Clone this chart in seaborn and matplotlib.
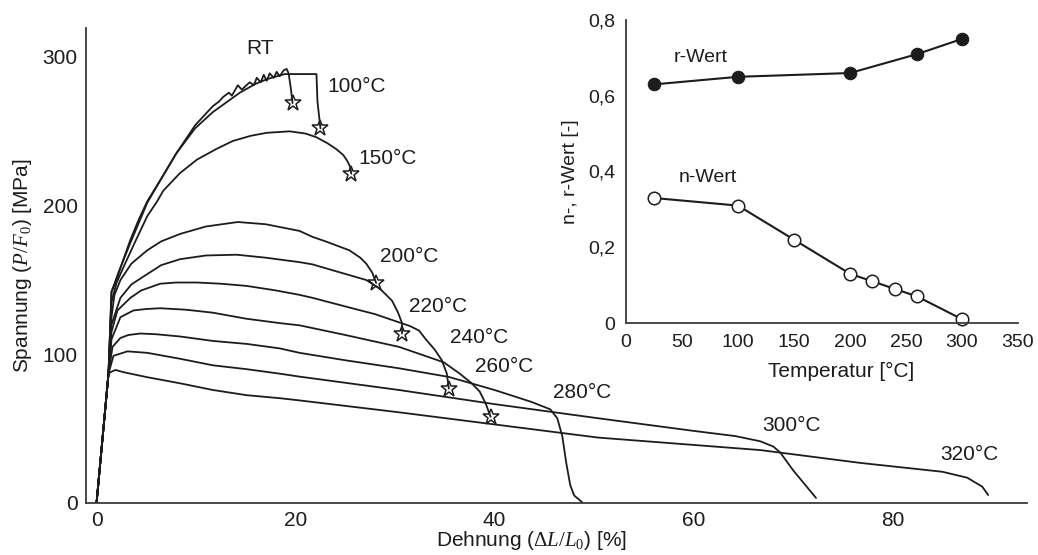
import matplotlib
matplotlib.use("Agg")
import numpy as np
import pandas as pd
import matplotlib.pyplot as plt
import seaborn as sns
from matplotlib.ticker import MultipleLocator

# ---------------- data: stress-strain curves (Dehnung [%], Spannung [MPa]) -------------
rt_strain = [0, 1.2, 1.5, 2.0, 2.6, 3.4, 4.2, 5.1, 6.4, 8.0, 9.9, 11.0, 11.7, 12.3, 12.7,
             13.3, 13.6, 14.2, 14.6, 14.9, 15.4, 15.8, 16.1, 16.5, 16.8, 17.1, 17.4, 17.8,
             18.1, 18.4, 18.8, 19.1, 19.3, 19.5, 19.7]
rt_stress = [0, 87, 142, 150, 162, 177, 190, 203, 217, 235, 254, 262, 267, 270, 273,
             276, 274, 281, 278, 280, 283, 281, 286, 283, 288, 284, 289, 286,
             290, 287, 291, 292, 289, 280, 269]

t100_strain = [0, 1.2, 1.5, 2.2, 3.4, 5.1, 6.4, 8.0, 9.9, 11.7, 14.4, 16.0, 17.1, 18.1,
               18.9, 22.1, 22.2, 22.5]
t100_stress = [0, 87, 142, 155, 175, 202, 217, 235, 252, 263, 276, 282, 285, 287,
               288.5, 288.5, 270, 252]

t150_strain = [0, 1.2, 1.5, 2.0, 2.8, 3.9, 5.1, 6.1, 6.7, 8.4, 10.1, 12.0, 13.7, 15.5,
               17.1, 19.4, 21.0, 22.1, 23.2, 24.1, 24.8, 25.2, 25.5, 25.6]
t150_stress = [0, 87, 135, 148, 160, 176, 193, 203, 210, 222, 231, 238, 243.5, 247,
               249, 250, 248.5, 246, 242, 238, 234, 230, 226, 221.5]

t200_strain = [0, 1.2, 1.4, 1.8, 2.4, 3.5, 5.1, 6.5, 8.4, 11.0, 14.2, 17.0, 20.4, 21.7,
               23.0, 25.4, 26.5, 27.1, 27.7, 28.1]
t200_stress = [0, 87, 120, 140, 150, 161, 170, 176, 181, 186, 189, 187.5, 183, 179,
               176, 170, 165, 161, 155, 148]

t220_strain = [0, 1.2, 1.5, 2.4, 3.5, 5.1, 6.5, 8.4, 11.0, 14.1, 17.0, 20.4, 21.7, 24.0,
               27.1, 28.5, 29.7, 30.3, 30.7, 30.7]
t220_stress = [0, 87, 120, 138, 147, 154, 160, 164, 166.5, 167, 165, 162, 160.5, 156,
               150, 144, 136, 128, 121, 114]

t240_strain = [0, 1.2, 1.5, 2.1, 3.4, 4.5, 6.4, 8.0, 10.1, 12.5, 15.1, 18.0, 20.4, 21.7,
               25.4, 28.0, 30.4, 31.5, 32.4, 33.1, 34.0, 34.7, 35.2, 35.4]
t240_stress = [0, 87, 115, 129.5, 138, 143, 147.5, 148.3, 148.3, 147.5, 146, 143, 140, 138,
               131.5, 127, 121.5, 119, 116, 110, 103, 96, 87, 77]

t260_strain = [0, 1.2, 1.5, 2.4, 3.7, 5.0, 6.4, 9.0, 11.7, 15.0, 18.4, 20.4, 25.0, 30.4,
               33.0, 34.9, 36.5, 37.7, 38.5, 39.1, 39.6]
t260_stress = [0, 87, 110, 125, 129.5, 130.5, 131, 130, 128, 124, 121, 119.5, 113, 105,
               99, 94.6, 87, 80.5, 75, 67, 58]

t280_strain = [0, 1.2, 1.6, 2.4, 3.2, 4.4, 6.0, 8.4, 11.7, 15.1, 18.4, 20.4, 25.0, 30.4,
               35.4, 40.0, 43.7, 45.6, 46.3, 46.8, 47.2, 47.6, 48.0, 48.8]
t280_stress = [0, 87, 105, 111, 113, 114, 113.5, 112, 109, 107, 104, 101, 96, 90.6,
               84.8, 76, 68, 63, 57, 45, 27, 12, 5, 0.5]

t300_strain = [0, 1.2, 1.7, 3.1, 5.1, 8.4, 11.7, 15.1, 18.4, 20.4, 30.4, 40.0, 50.4, 60.0,
               64.2, 66.7, 68.0, 68.7, 70.0, 72.3]
t300_stress = [0, 87, 99, 102, 101, 97, 92.6, 90, 87, 85, 76, 66.5, 57, 48.5,
               45, 41.5, 38, 34, 22, 3.4]

t320_strain = [0, 1.2, 1.4, 1.9, 2.7, 5.1, 8.4, 11.7, 15.1, 18.4, 20.4, 30.4, 50.4, 66.7,
               76.7, 85.0, 87.5, 89.0, 89.6]
t320_stress = [0, 87, 88, 89.5, 88, 84.6, 80.5, 76, 72.5, 70.5, 69, 61, 44, 35.6,
               27, 21, 17, 11, 5.4]

curve_names = ["RT", "100°C", "150°C", "200°C", "220°C", "240°C", "260°C",
               "280°C", "300°C", "320°C"]
curve_strains = [rt_strain, t100_strain, t150_strain, t200_strain, t220_strain,
                 t240_strain, t260_strain, t280_strain, t300_strain, t320_strain]
curve_stresses = [rt_stress, t100_stress, t150_stress, t200_stress, t220_stress,
                  t240_stress, t260_stress, t280_stress, t300_stress, t320_stress]
fractured = ["RT", "100°C", "150°C", "200°C", "220°C", "240°C", "260°C"]

# label anchor positions (data coords)
label_x = [16.4, 26.1, 29.2, 31.4, 34.3, 38.4, 41.0, 48.8, 69.8, 87.7]
label_y = [306, 280, 232, 166, 132.5, 111, 91.5, 74.3, 52, 32.3]

# ---------------- inset data ---------------------------------------------------------
r_temp = [25, 100, 200, 260, 300]
r_wert = [0.63, 0.65, 0.66, 0.71, 0.75]
n_temp = [25, 100, 150, 200, 220, 240, 260, 300]
n_wert = [0.33, 0.31, 0.22, 0.13, 0.11, 0.09, 0.07, 0.01]

main_xticks = [0, 20, 40, 60, 80]
main_yticks = [0, 100, 200, 300]
inset_xticks = [0, 50, 100, 150, 200, 250, 300, 350]
inset_yticks = [0, 0.2, 0.4, 0.6, 0.8]
inset_yticklabels = ["0", "0,2", "0,4", "0,6", "0,8"]

# ---------------- style -----------------------------------------------------------------
sns.set_theme(style="white")
plt.rcParams['font.family'] = ['Liberation Sans', 'DejaVu Sans']
plt.rcParams['mathtext.fontset'] = 'custom'
plt.rcParams['mathtext.rm'] = 'Liberation Serif'
plt.rcParams['mathtext.it'] = 'Liberation Serif:italic'
plt.rcParams['mathtext.bf'] = 'Liberation Serif:bold'

ink = '#1c1c1c'
spine_c = '#3a3a3a'

W, H = 1038, 555
fig = plt.figure(figsize=(W / 100, H / 100), dpi=100)
fig.patch.set_facecolor('white')

# main axes: left=86px, right=1027px, top=28px, bottom=503px
ax = fig.add_axes([86 / W, (H - 503) / H, (1027 - 86) / W, (503 - 28) / H])
ax.set_facecolor('white')

frames = []
for name, xs, ys in zip(curve_names, curve_strains, curve_stresses):
    frames.append(pd.DataFrame({'Dehnung': xs, 'Spannung': ys, 'Kurve': name}))
df = pd.concat(frames, ignore_index=True)

for name in curve_names:
    sub = df[df['Kurve'] == name]
    sns.lineplot(data=sub, x='Dehnung', y='Spannung', sort=False, estimator=None,
                 ax=ax, color=ink, lw=1.3)

for name, xs, ys in zip(curve_names, curve_strains, curve_stresses):
    if name in fractured:
        ax.plot([xs[-1]], [ys[-1]], marker='*', ms=12, mfc='none', mec=ink, mew=1.1,
                ls='none', zorder=5)

for name, lx, ly in zip(curve_names, label_x, label_y):
    ax.text(lx, ly, name, ha='center', va='center', fontsize=15, color=ink)

ax.set_xlim(-1.06, 93.5)
ax.set_ylim(0, 319.5)
ax.set_xticks(main_xticks)
ax.set_yticks(main_yticks)
ax.xaxis.set_minor_locator(MultipleLocator(10))
ax.yaxis.set_minor_locator(MultipleLocator(20))
ax.tick_params(which='both', direction='in', colors=spine_c, width=1.1,
               labelsize=15, labelcolor=ink, pad=6)
ax.tick_params(which='major', length=9)
ax.tick_params(which='minor', length=7)
for s in ['top', 'right']:
    ax.spines[s].set_visible(False)
for s in ['left', 'bottom']:
    ax.spines[s].set_color(spine_c)
    ax.spines[s].set_linewidth(1.3)
ax.set_xlabel(r"Dehnung ($\Delta L/L_0$) [%]", fontsize=15, color=ink, labelpad=2)
ax.xaxis.set_label_coords((532 - 86) / (1027 - 86), -0.055)
ax.set_ylabel(r"Spannung ($P/F_0$) [MPa]", fontsize=15, color=ink, labelpad=6)

# inset axes: left=626px, right=1018px, top=20px, bottom=323px
axi = fig.add_axes([626 / W, (H - 323) / H, (1018 - 626) / W, (323 - 20) / H])
axi.patch.set_alpha(0)
sns.lineplot(x=r_temp, y=r_wert, ax=axi, color=ink, lw=1.5, marker='o', markersize=9,
             markerfacecolor=ink, markeredgecolor=ink, clip_on=False)
sns.lineplot(x=n_temp, y=n_wert, ax=axi, color=ink, lw=1.5, marker='o', markersize=9,
             markerfacecolor='white', markeredgecolor=ink, markeredgewidth=1.1,
             clip_on=False)
axi.text(67, 0.70, "r-Wert", ha='center', va='center', fontsize=14, color=ink)
axi.text(73, 0.383, "n-Wert", ha='center', va='center', fontsize=14, color=ink)
axi.set_xlim(0, 350)
axi.set_ylim(0, 0.8)
axi.set_xticks(inset_xticks)
axi.set_yticks(inset_yticks)
axi.set_yticklabels(inset_yticklabels)
axi.xaxis.set_minor_locator(MultipleLocator(25))
axi.yaxis.set_minor_locator(MultipleLocator(0.1))
axi.tick_params(which='both', direction='in', colors=spine_c, width=1.1,
                labelsize=14, labelcolor=ink, pad=8)
axi.tick_params(which='major', length=8)
axi.tick_params(which='minor', length=5)
for s in ['top', 'right']:
    axi.spines[s].set_visible(False)
for s in ['left', 'bottom']:
    axi.spines[s].set_color(spine_c)
    axi.spines[s].set_linewidth(1.3)
axi.set_xlabel("Temperatur [°C]", fontsize=15, color=ink, labelpad=4)
axi.xaxis.set_label_coords(0.548, -0.13)
axi.set_ylabel("n-, r-Wert [-]", fontsize=14, color=ink, labelpad=6)

fig.savefig("out.png", dpi=100, facecolor='white')
